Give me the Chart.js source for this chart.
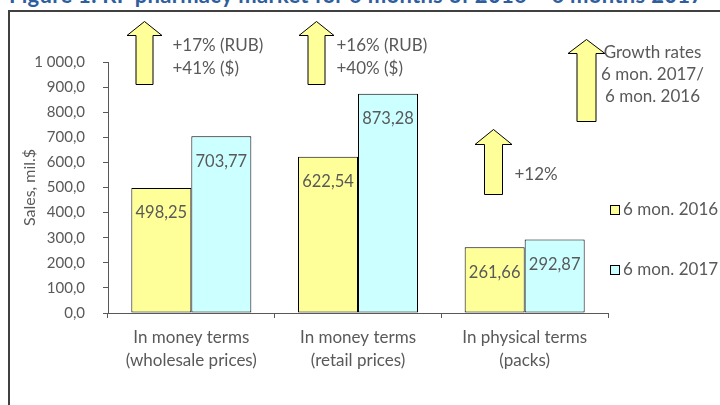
<!DOCTYPE html>
<html>
<head>
<meta charset="utf-8">
<script src="https://cdn.jsdelivr.net/npm/chart.js@4/dist/chart.umd.min.js"></script>
<style>
  html, body { margin: 0; padding: 0; background: #fff; overflow: hidden; }
  #wrap { position: relative; width: 720px; height: 405px; }
  #title {
    position: absolute; left: 9px; top: -19px; white-space: nowrap; letter-spacing: 0.3px;
    font: bold 22px Lato, sans-serif; color: #2E5E9E;
  }
  #frame {
    position: absolute; left: 8px; top: 10px; width: 800px; height: 500px;
    border-left: 2px solid #404040; border-top: 2px solid #404040;
  }
  canvas { position: absolute; left: 0; top: 0; }
</style>
</head>
<body>
<div id="wrap">
  <div id="title">Figure 1. RF pharmacy market for 6 months of 2016 – 6 months 2017</div>
  <div id="frame"></div>
  <canvas id="c" width="720" height="405"></canvas>
</div>
<script>
const categories = [
  ['In money terms', '(wholesale prices)'],
  ['In money terms', '(retail prices)'],
  ['In physical terms', '(packs)']
];
const seriesNames = ['6 mon. 2016', '6 mon. 2017'];
const sales2016 = [498.25, 622.54, 261.66];
const sales2017 = [703.77, 873.28, 292.87];
const growthNotes = [
  ['+17% (RUB)', '+41% ($)'],
  ['+16% (RUB)', '+40% ($)'],
  ['+12%']
];
const growthCaption = ['Growth rates', '6 mon. 2017/', '6 mon. 2016'];

const GRAY = '#595959';
const FONT = 'Lato, sans-serif';
const fmt = v => {
  const s = v.toFixed(1).replace('.', ',');
  return s.replace(/^(\d)(\d{3})/, '$1 $2');
};

// value labels inside the top of each bar
const barLabels = {
  id: 'barLabels',
  afterDatasetsDraw(chart) {
    const ctx = chart.ctx;
    ctx.save();
    ctx.font = '16.5px ' + FONT;
    ctx.fillStyle = GRAY;
    ctx.textAlign = 'center';
    ctx.textBaseline = 'middle';
    chart.data.datasets.forEach((ds, i) => {
      chart.getDatasetMeta(i).data.forEach((bar, j) => {
        ctx.fillText(ds.data[j].toFixed(2).replace('.', ','), bar.x, bar.y + 25);
      });
    });
    ctx.restore();
  }
};

// block arrows + growth notes + legend on the right
function upArrow(ctx, cx, tip, neck, base, head, shaft) {
  ctx.beginPath();
  ctx.moveTo(cx, tip);
  ctx.lineTo(cx + head, neck);
  ctx.lineTo(cx + shaft, neck);
  ctx.lineTo(cx + shaft, base);
  ctx.lineTo(cx - shaft, base);
  ctx.lineTo(cx - shaft, neck);
  ctx.lineTo(cx - head, neck);
  ctx.closePath();
  ctx.fillStyle = '#FFFF99';
  ctx.fill();
  ctx.lineWidth = 1;
  ctx.strokeStyle = '#000';
  ctx.stroke();
}

const notes = {
  id: 'notes',
  afterDraw(chart) {
    const ctx = chart.ctx;
    const x = chart.scales.x, y = chart.scales.y;
    const cx = (i, dx) => Math.round(x.getPixelForValue(i) + dx) + 0.5;
    const py = v => Math.round(y.getPixelForValue(v)) + 0.5;
    ctx.save();
    upArrow(ctx, cx(0, -47), py(1163), py(1108), py(912), 17.5, 8.5);
    upArrow(ctx, cx(1, -42.5), py(1163), py(1108), py(912), 17.5, 8.5);
    upArrow(ctx, cx(2, -32), py(733), py(673), py(474), 18.5, 9);
    upArrow(ctx, cx(2, 61), py(1092), py(1036), py(765), 18.5, 9.5);

    ctx.font = '17px ' + FONT;
    ctx.fillStyle = GRAY;
    ctx.textBaseline = 'middle';
    ctx.textAlign = 'left';
    const noteX = [cx(0, -19.5), cx(1, -22), cx(2, -10.5)];
    const noteY = [[1064, 976], [1064, 976], [553]];
    growthNotes.forEach((lines, i) => {
      lines.forEach((t, k) => ctx.fillText(t, noteX[i], y.getPixelForValue(noteY[i][k])));
    });
    ctx.textAlign = 'center';
    growthCaption.forEach((t, k) => ctx.fillText(t, cx(2, 127.5), 53 + k * 22));

    // legend
    const legY = [210, 270];
    chart.data.datasets.forEach((ds, i) => {
      ctx.fillStyle = ds.backgroundColor;
      ctx.fillRect(610.5, legY[i] - 4.5, 9, 9);
      ctx.strokeStyle = '#000';
      ctx.strokeRect(610.5, legY[i] - 4.5, 9, 9);
      ctx.fillStyle = GRAY;
      ctx.textAlign = 'left';
      ctx.fillText(ds.label, 623, legY[i]);
    });
    ctx.restore();
  }
};

new Chart(document.getElementById('c'), {
  type: 'bar',
  data: {
    labels: categories,
    datasets: [
      { label: seriesNames[0], data: sales2016, backgroundColor: '#FFFF99' },
      { label: seriesNames[1], data: sales2017, backgroundColor: '#CCFFFF' }
    ].map(d => ({ ...d, borderColor: '#000', borderWidth: 1, borderSkipped: false,
                  barPercentage: 1.0, categoryPercentage: 0.72 }))
  },
  options: {
    responsive: false,
    animation: false,
    layout: { padding: { left: 0, right: 112, top: 62, bottom: 0 } },
    plugins: { legend: { display: false }, tooltip: { enabled: false } },
    scales: {
      x: {
        offset: true,
        grid: { offset: true, drawOnChartArea: false, drawTicks: true, tickLength: 5, color: GRAY },
        border: { display: true, color: GRAY, width: 1 },
        ticks: { color: GRAY, font: { family: FONT, size: 17, lineHeight: 1.35 }, padding: 8, maxRotation: 0 },
        afterFit: s => { s.height = 92; }
      },
      y: {
        min: 0, max: 1000,
        grid: { drawOnChartArea: false, drawTicks: true, tickLength: 5, color: GRAY },
        border: { display: true, color: GRAY, width: 1 },
        ticks: { stepSize: 100, color: GRAY, font: { family: FONT, size: 15 }, padding: 18, callback: v => fmt(v) },
        title: { display: true, text: 'Sales, mil.$', color: GRAY, font: { family: FONT, size: 16 }, padding: { top: 20 } },
        afterFit: s => { s.width = 108; }
      }
    }
  },
  plugins: [barLabels, notes]
});
</script>
</body>
</html>
